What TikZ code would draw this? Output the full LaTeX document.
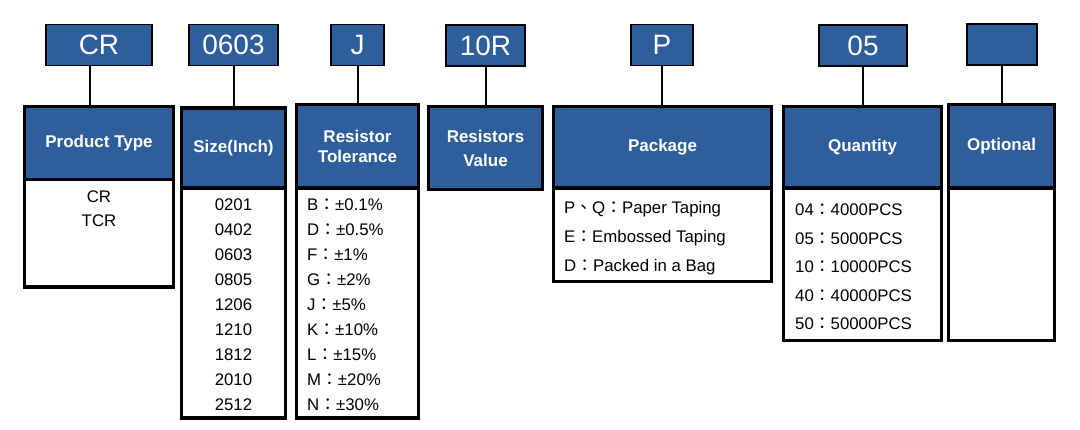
\documentclass[tikz,border=0pt]{standalone}
\usepackage{fontspec}
\setmainfont{Liberation Sans}
\newfontfamily\cjk{Noto Sans CJK TC}
\usepackage{xcolor}
\usepackage{tikz}
\usetikzlibrary{positioning}

\definecolor{codeblue}{RGB}{46,94,156}
\newcommand{\fwc}{{\cjk ：}}

\begin{document}
\begin{tikzpicture}[
  x=1pt,y=-1pt,
  codebox/.style={draw,line width=1.5pt,fill=codeblue,text=white,minimum height=41pt,inner sep=0pt,outer sep=0pt,font=\fontsize{28}{32}\selectfont},
  hdr/.style={draw,line width=3.5pt,fill=codeblue,text=white,align=center,inner sep=0pt,outer sep=0pt,font=\fontsize{17}{20}\bfseries\selectfont},
  bodybox/.style={draw,line width=3.5pt,fill=white,inner sep=0pt,outer sep=0pt},
  items/.style={inner sep=0pt,font=\fontsize{16.8}{25}\selectfont},
  conn/.style={line width=2pt}]
  \useasboundingbox (0,0) rectangle (1080,430);
  % code letters
  \node[codebox,minimum width=106pt] (cr) at (99,45) {CR};
  \node[codebox,minimum width=89pt] (sz) at (233.5,45) {0603};
  \node[codebox,minimum width=53pt] (tol) at (357.5,45) {J};
  \node[codebox,minimum width=79pt] (val) at (485.5,45.5) {10R};
  \node[codebox,minimum width=62pt] (pkg) at (662,45) {P};
  \node[codebox,minimum width=88pt] (qty) at (863,45.5) {05};
  \node[codebox,minimum width=70pt] (opt) at (1002,44.5) {};
  % headers
  \node[hdr,minimum width=149pt,minimum height=73pt] (ptypeh) at (99,143) {Product Type};
  \node[hdr,minimum width=104pt,minimum height=80pt] (sizeh) at (233.5,148) {Size(Inch)};
  \node[hdr,minimum width=122pt,minimum height=83.5pt] (tolh) at (357.5,146.25) {Resistor\\Tolerance};
  \node[hdr,minimum width=114pt,minimum height=83pt,font=\fontsize{17}{24}\bfseries\selectfont] (valh) at (485.5,148) {Resistors\\Value};
  \node[hdr,minimum width=218pt,minimum height=81.5pt] (pkgh) at (662.5,147.25) {Package};
  \node[hdr,minimum width=158pt,minimum height=81.5pt] (qtyh) at (862.5,147.25) {Quantity};
  \node[hdr,minimum width=106pt,minimum height=83.5pt] (opth) at (1001.5,146.25) {Optional};
  % bodies
  \node[bodybox,below=0pt of ptypeh,minimum width=149pt,minimum height=107.5pt] (ptypeb) {};
  \node[bodybox,below=0pt of sizeh,minimum width=104pt,minimum height=230pt] (sizeb) {};
  \node[bodybox,below=0pt of tolh,minimum width=122pt,minimum height=230pt] (tolb) {};
  \node[bodybox,below=0pt of pkgh,minimum width=218pt,minimum height=93.5pt] (pkgb) {};
  \node[bodybox,below=0pt of qtyh,minimum width=158pt,minimum height=152.5pt] (qtyb) {};
  \node[bodybox,below=0pt of opth,minimum width=106pt,minimum height=152.5pt] (optb) {};
  % entries
  \node[items,align=center,font=\fontsize{16.8}{24}\selectfont,below=11pt of ptypeb.north] (ptypel) {CR\\TCR};
  \node[items,align=center] (sizel) at ([yshift=-2pt]sizeb.center) {0201\\0402\\0603\\0805\\1206\\1210\\1812\\2010\\2512};
  \node[items,align=left,anchor=west] (toll) at ([xshift=10.5pt,yshift=-2pt]tolb.west)
    {B\fwc ±0.1\%\\D\fwc ±0.5\%\\F\fwc ±1\%\\G\fwc ±2\%\\J\fwc ±5\%\\K\fwc ±10\%\\L\fwc ±15\%\\M\fwc ±20\%\\N\fwc ±30\%};
  \node[items,align=left,anchor=west,font=\fontsize{16.8}{29}\selectfont] (pkgl) at ([xshift=10.5pt,yshift=-3pt]pkgb.west)
    {P{\cjk 、}Q\fwc Paper Taping\\E\fwc Embossed Taping\\D\fwc Packed in a Bag};
  \node[items,align=left,anchor=west,font=\fontsize{16.8}{28.5}\selectfont] (qtyl) at ([xshift=11.5pt,yshift=-2.5pt]qtyb.west)
    {04\fwc 4000PCS\\05\fwc 5000PCS\\10\fwc 10000PCS\\40\fwc 40000PCS\\50\fwc 50000PCS};
  % connectors
  \draw[conn] ([xshift=-9pt]cr.south) -- ([xshift=-9pt]ptypeh.north);
  \draw[conn] (sz) -- (sizeh);
  \draw[conn] (tol) -- (tolh);
  \draw[conn] (val) -- (valh);
  \draw[conn] (pkg.south) -- (pkg.south |- pkgh.north);
  \draw[conn] (qty.south) -- (qty.south |- qtyh.north);
  \draw[conn] (opt.south) -- (opt.south |- opth.north);
\end{tikzpicture}
\end{document}
